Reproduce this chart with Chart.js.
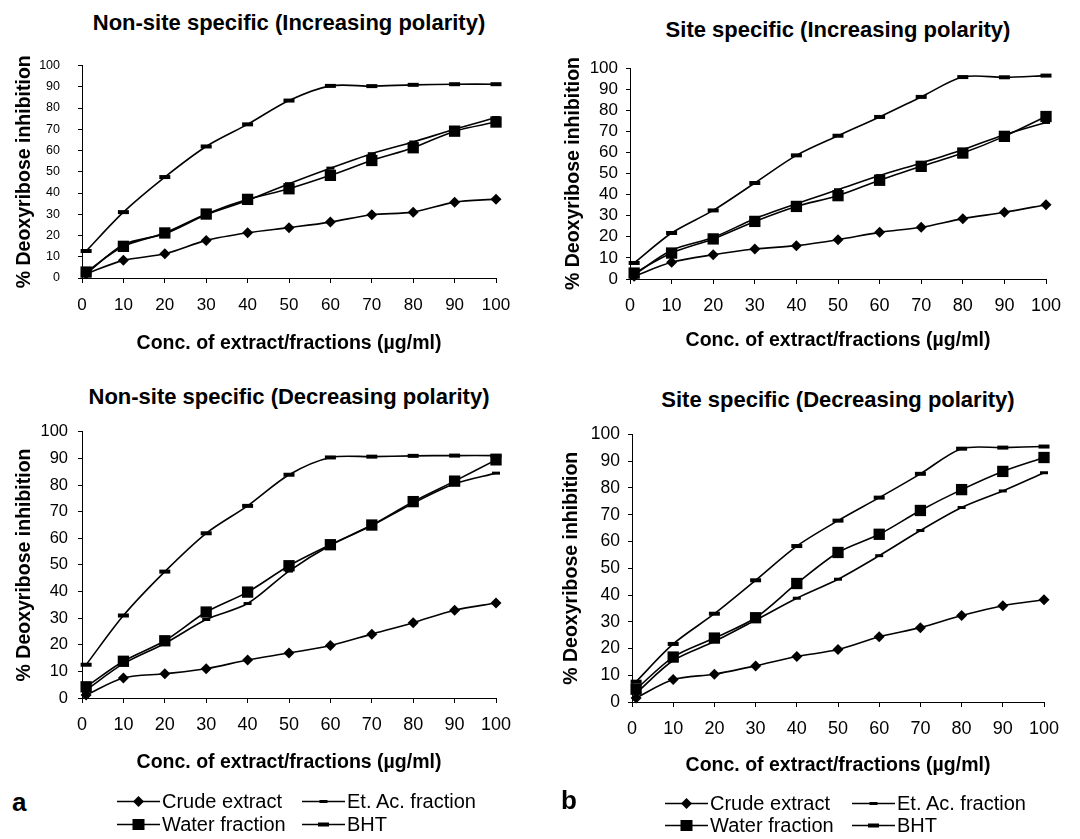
<!DOCTYPE html>
<html>
<head>
<meta charset="utf-8">
<script src="https://cdn.jsdelivr.net/npm/chart.js@4.4.0/dist/chart.umd.min.js"></script>
<style>
  html, body { margin: 0; padding: 0; background: #fff; }
  body { width: 1080px; height: 839px; position: relative; overflow: hidden;
         font-family: "Liberation Sans", Arial, Helvetica, sans-serif; color: #000; }
  .cv { position: absolute; }
  .ptitle { position: absolute; font-weight: bold; font-size: 22px; white-space: nowrap;
            transform: translate(-50%, -50%); line-height: 1; }
  .tag { position: absolute; font-weight: bold; font-size: 26px; transform: translateY(-50%); line-height: 1; }
  .leg { position: absolute; font-size: 20px; white-space: nowrap; display: flex; align-items: center;
         transform: translateY(-50%); line-height: 1; }
  .leg svg { margin-right: 2px; }
</style>
</head>
<body>
<canvas id="c1" class="cv"></canvas>
<canvas id="c2" class="cv"></canvas>
<canvas id="c3" class="cv"></canvas>
<canvas id="c4" class="cv"></canvas>
<div id="titles"></div>
<div class="tag" style="left:12px;top:802px">a</div>
<div class="tag" style="left:561px;top:800px">b</div>
<div id="legends"></div>
<script>
// ---------- data ----------
const concentrations = [1, 10, 20, 30, 40, 50, 60, 70, 80, 90, 100];
const seriesNames = ["Crude extract", "Et. Ac. fraction", "Water fraction", "BHT"];
const xTickValues = [0, 10, 20, 30, 40, 50, 60, 70, 80, 90, 100];
const yTickValues = [0, 10, 20, 30, 40, 50, 60, 70, 80, 90, 100];
const panelTitles = ["Non-site specific (Increasing polarity)", "Site specific (Increasing polarity)",
                     "Non-site specific (Decreasing polarity)", "Site specific (Decreasing polarity)"];
const xAxisTitle = "Conc. of extract/fractions (\u00b5g/ml)";
const yAxisTitle = "% Deoxyribose inhibition";

// Non-site specific (Increasing polarity)
const nsInc_crude = [2, 8.3, 11.4, 17.7, 21.3, 23.7, 26.3, 29.8, 31, 35.7, 37.1];
const nsInc_etac  = [2, 15.7, 20.8, 29.8, 36.5, 44.4, 51.7, 58.5, 64, 70, 75.5];
const nsInc_water = [2.8, 14.9, 21.2, 30.1, 37, 42, 48.3, 55.3, 61.3, 69.1, 73.4];
const nsInc_bht   = [12.7, 31, 47.5, 61.9, 72.3, 83.5, 90.4, 90.3, 90.9, 91.2, 91.2];
// Site specific (Increasing polarity)
const sInc_crude = [1.3, 7.9, 11.5, 14.2, 15.8, 18.6, 22.1, 24.5, 28.6, 31.6, 35.2];
const sInc_etac  = [2, 13.6, 19.7, 28.6, 35.7, 42.3, 49, 55, 61.3, 68.4, 74.2];
const sInc_water = [2.8, 12.3, 19, 27.3, 34.4, 39.5, 46.8, 53.4, 59.7, 67.6, 77];
const sInc_bht   = [7.6, 21.8, 32.5, 45.5, 58.6, 67.9, 76.8, 86.3, 95.7, 95.6, 96.4];
// Non-site specific (Decreasing polarity)
const nsDec_crude = [1.1, 7.5, 9.1, 11, 14.3, 16.9, 19.7, 24, 28.3, 33, 35.7];
const nsDec_etac  = [3, 12.9, 20.5, 29.5, 35.5, 47.7, 57.4, 64.8, 73.2, 80.5, 84.5];
const nsDec_water = [4.2, 13.8, 21.5, 32.3, 39.8, 49.7, 57.6, 65, 73.8, 81.5, 89.5];
const nsDec_bht   = [12.5, 31, 47.5, 61.9, 72.2, 83.9, 90.4, 90.7, 91, 91.1, 91.1];
// Site specific (Decreasing polarity)
const sDec_crude = [1.5, 8.4, 10.4, 13.5, 17, 19.6, 24.4, 27.8, 32.3, 36, 38.2];
const sDec_etac  = [3.3, 15.5, 22.6, 30.6, 38.8, 45.9, 54.7, 64.1, 72.7, 78.9, 85.7];
const sDec_water = [4.8, 16.8, 23.9, 31.5, 44.3, 55.9, 62.7, 71.6, 79.4, 86.2, 91.4];
const sDec_bht   = [7.6, 21.7, 33, 45.5, 58.3, 67.8, 76.4, 85.3, 94.7, 95.1, 95.5];

// ---------- styles ----------
const FONT = "'Liberation Sans', Arial, Helvetica, sans-serif";
const markerStyles = [
  { pointStyle: 'rectRot', pointRadius: 5.5, pointBorderWidth: 0 },
  { pointStyle: 'line', pointRadius: 4, pointBorderWidth: 3 },
  { pointStyle: 'rect', pointRadius: 8, pointBorderWidth: 0 },
  { pointStyle: 'line', pointRadius: 5.5, pointBorderWidth: 4 }
];

function makeDatasets(arrays) {
  return arrays.map((vals, i) => Object.assign({
    label: seriesNames[i],
    data: vals.map((v, k) => ({ x: concentrations[k], y: v })),
    borderColor: '#000', backgroundColor: '#000',
    pointBackgroundColor: '#000', pointBorderColor: '#000',
    borderWidth: 1.6, tension: 0.3, cubicInterpolationMode: 'default',
    clip: false, order: 3 - i
  }, markerStyles[i]));
}

function makeChart(id, arrays, g, title) {
  const cv = document.getElementById(id);
  cv.style.left = g.cl + 'px'; cv.style.top = g.ct + 'px';
  cv.width = g.cw; cv.height = g.ch;
  cv.style.width = g.cw + 'px'; cv.style.height = g.ch + 'px';
  const yW = g.left - g.cl;
  const xH = (g.ct + g.ch) - g.bottom;
  new Chart(cv, {
    type: 'line',
    data: { datasets: makeDatasets(arrays) },
    options: {
      responsive: false, animation: false, devicePixelRatio: 1,
      layout: { padding: { top: g.top - g.ct, right: (g.cl + g.cw) - g.right, left: 0, bottom: 0 } },
      plugins: { legend: { display: false }, tooltip: { enabled: false }, title: { display: false } },
      scales: {
        x: {
          type: 'linear', min: 0, max: 100,
          afterBuildTicks: s => { s.ticks = xTickValues.map(v => ({ value: v })); },
          afterFit: s => { s.height = xH; },
          grid: { display: true, drawOnChartArea: false, drawTicks: true, tickLength: 5, color: '#000', lineWidth: 1 },
          border: { display: true, color: '#000', width: 1 },
          ticks: { color: '#000', font: { family: FONT, size: g.xTickSize }, padding: g.xTickPad, maxRotation: 0, autoSkip: false },
          title: { display: true, text: xAxisTitle, color: '#000', font: { family: FONT, size: 19.5, weight: 'bold' },
                   padding: { top: 0, bottom: g.xTitleBottom } }
        },
        y: {
          type: 'linear', min: 0, max: 100,
          afterBuildTicks: s => { s.ticks = yTickValues.map(v => ({ value: v })); },
          afterFit: s => { s.width = yW; },
          grid: { display: true, drawOnChartArea: false, drawTicks: true, tickLength: 4, color: '#000', lineWidth: 1 },
          border: { display: true, color: '#000', width: 1 },
          ticks: { color: '#000', font: { family: FONT, size: g.yTickSize }, padding: g.yTickPad, autoSkip: false },
          title: { display: true, text: yAxisTitle, color: '#000', font: { family: FONT, size: 19.5, weight: 'bold' },
                   padding: { top: g.yTitleLeft, bottom: 0 } }
        }
      }
    }
  });
  const t = document.createElement('div');
  t.className = 'ptitle';
  t.style.left = g.titleX + 'px'; t.style.top = g.titleY + 'px';
  t.textContent = title;
  document.getElementById('titles').appendChild(t);
}

makeChart('c1', [nsInc_crude, nsInc_etac, nsInc_water, nsInc_bht],
  { cl: 0, ct: 40, cw: 540, ch: 320, left: 82, right: 496, top: 65, bottom: 278,
    xTickSize: 17, xTickPad: 12, xTitleBottom: 5, yTickSize: 12.5, yTickPad: 18, yTitleLeft: 13,
    titleX: 289, titleY: 23 }, panelTitles[0]);
makeChart('c2', [sInc_crude, sInc_etac, sInc_water, sInc_bht],
  { cl: 548, ct: 44, cw: 532, ch: 320, left: 630, right: 1046, top: 68, bottom: 279,
    xTickSize: 18, xTickPad: 11, xTitleBottom: 12, yTickSize: 17, yTickPad: 8, yTitleLeft: 14,
    titleX: 838, titleY: 30 }, panelTitles[1]);
makeChart('c3', [nsDec_crude, nsDec_etac, nsDec_water, nsDec_bht],
  { cl: 0, ct: 412, cw: 540, ch: 370, left: 82, right: 496, top: 428, bottom: 698,
    xTickSize: 18, xTickPad: 11, xTitleBottom: 8, yTickSize: 16.5, yTickPad: 10, yTitleLeft: 13,
    titleX: 289, titleY: 397 }, panelTitles[2]);
makeChart('c4', [sDec_crude, sDec_etac, sDec_water, sDec_bht],
  { cl: 548, ct: 416, cw: 532, ch: 370, left: 632, right: 1044, top: 430, bottom: 702,
    xTickSize: 18, xTickPad: 11, xTitleBottom: 9, yTickSize: 17.5, yTickPad: 8, yTitleLeft: 12,
    titleX: 838, titleY: 400 }, panelTitles[3]);

// ---------- legends (HTML, real text) ----------
function markerSvg(i) {
  let m = '';
  if (i === 0) m = '<polygon points="21.5,3 27,8.5 21.5,14 16,8.5" fill="#000"/>';
  if (i === 1) m = '<rect x="17.5" y="7" width="8" height="3" fill="#000"/>';
  if (i === 2) m = '<rect x="15.5" y="3" width="12" height="11" fill="#000"/>';
  if (i === 3) m = '<rect x="16" y="6.5" width="11" height="4" fill="#000"/>';
  return '<svg width="43" height="17" viewBox="0 0 43 17"><line x1="0" y1="8.5" x2="43" y2="8.5" stroke="#000" stroke-width="1.6"/>' + m + '</svg>';
}
const legendSpots = [
  { x: 117, y: 801, i: 0 }, { x: 302, y: 801, i: 1 }, { x: 117, y: 824, i: 2 }, { x: 302, y: 824, i: 3 },
  { x: 665, y: 803, i: 0 }, { x: 852, y: 803, i: 1 }, { x: 665, y: 825, i: 2 }, { x: 852, y: 825, i: 3 }
];
const host = document.getElementById('legends');
legendSpots.forEach(s => {
  const d = document.createElement('div');
  d.className = 'leg';
  d.style.left = s.x + 'px'; d.style.top = s.y + 'px';
  d.innerHTML = markerSvg(s.i) + '<span>' + seriesNames[s.i] + '</span>';
  host.appendChild(d);
});
</script>
</body>
</html>
